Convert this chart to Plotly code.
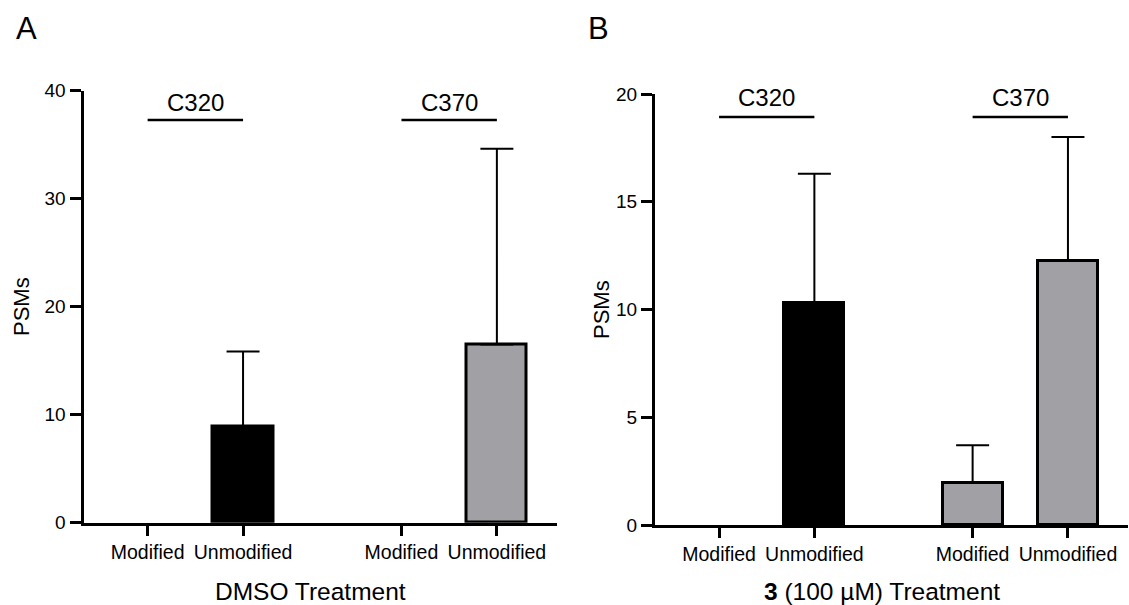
import plotly.graph_objects as go

# ---- data ----
positions = [0, 1, 2.66, 3.66]
tick_labels = ["Modified", "Unmodified", "Modified", "Unmodified"]
sites = ["C320", "C370"]
bar_colors = ["#000000", "#000000", "#a1a1a5", "#a1a1a5"]

dmso_mean = [0, 8.9, 0, 16.5]
dmso_sd = [None, 6.95, None, 18.1]

cmpd_mean = [0, 10.3, 1.95, 12.25]
cmpd_sd = [None, 6.0, 1.75, 5.75]

W, H = 1129, 605
FONT = "Liberation Sans, Arial, sans-serif"

fig = go.Figure()

def add_bars(mean, sd, xa, ya):
    fig.add_trace(go.Bar(
        x=positions, y=[v if v > 0 else None for v in mean], width=0.63,
        marker=dict(color=bar_colors, line=dict(color="black", width=3)),
        error_y=dict(type="data", symmetric=False, array=sd,
                     arrayminus=[0 if s is not None else None for s in sd],
                     color="black", thickness=2, width=16.5),
        xaxis=xa, yaxis=ya, showlegend=False, hoverinfo="skip"))

add_bars(dmso_mean, dmso_sd, "x", "y")
add_bars(cmpd_mean, cmpd_sd, "x2", "y2")

xa_common = dict(range=[-0.672, 4.29], tickmode="array", tickvals=positions,
                 ticktext=tick_labels, showline=True, linecolor="black", linewidth=3,
                 ticks="outside", ticklen=10, tickwidth=3, tickcolor="black",
                 showgrid=False, zeroline=False, automargin=False,
                 tickfont=dict(family=FONT, size=19.5, color="black"))
ya_common = dict(showline=True, linecolor="black", linewidth=3, ticks="outside",
                 ticklen=11, tickwidth=3, tickcolor="black", showgrid=False,
                 zeroline=False, automargin=False,
                 tickfont=dict(family=FONT, size=19, color="black"))

fig.update_layout(
    width=W, height=H, margin=dict(l=0, r=0, t=0, b=0, pad=0, autoexpand=False),
    paper_bgcolor="white", plot_bgcolor="white", bargap=0,
    xaxis=dict(domain=[83.5 / W, 557 / W], anchor="y", **xa_common),
    xaxis2=dict(domain=[655 / W, 1128 / W], anchor="y2", **xa_common),
    yaxis=dict(domain=[1 - 522.7 / H, 1 - 90.5 / H], anchor="x", range=[0, 40],
               tickvals=[0, 10, 20, 30, 40], **ya_common),
    yaxis2=dict(domain=[1 - 525 / H, 1 - 94 / H], anchor="x2", range=[0, 20],
                tickvals=[0, 5, 10, 15, 20], **ya_common),
)

def py(p):
    return 1 - p / H

anns = []
shapes = []
for xa, line_y, text_y in [("x", 120, 102), ("x2", 117, 97)]:
    for gi, site in enumerate(sites):
        x0, x1 = positions[2 * gi], positions[2 * gi + 1]
        shapes.append(dict(type="line", xref=xa, yref="paper", x0=x0, x1=x1,
                           y0=py(line_y), y1=py(line_y),
                           line=dict(color="black", width=2.5)))
        anns.append(dict(xref=xa, yref="paper", x=(x0 + x1) / 2, y=py(text_y),
                         text=site, showarrow=False, xanchor="center", yanchor="middle",
                         font=dict(family=FONT, size=24, color="black")))

anns.append(dict(xref="paper", yref="paper", x=26 / W, y=py(28), text="A", showarrow=False,
                 xanchor="center", yanchor="middle", font=dict(family=FONT, size=31, color="black")))
anns.append(dict(xref="paper", yref="paper", x=598 / W, y=py(28), text="B", showarrow=False,
                 xanchor="center", yanchor="middle", font=dict(family=FONT, size=31, color="black")))

for xp, yp in [(21, 307), (601, 310)]:
    anns.append(dict(xref="paper", yref="paper", x=xp / W, y=py(yp), text="PSMs", showarrow=False,
                     textangle=-90, xanchor="center", yanchor="middle",
                     font=dict(family=FONT, size=22, color="black")))

anns.append(dict(xref="paper", yref="paper", x=310 / W, y=py(591), text="DMSO Treatment",
                 showarrow=False, xanchor="center", yanchor="middle",
                 font=dict(family=FONT, size=24.5, color="black")))
anns.append(dict(xref="paper", yref="paper", x=882 / W, y=py(591),
                 text="<b>3</b> (100 µM) Treatment",
                 showarrow=False, xanchor="center", yanchor="middle",
                 font=dict(family=FONT, size=24.5, color="black")))

fig.update_layout(annotations=anns, shapes=shapes)
fig.write_html("out.html", config={"displayModeBar": False},
               post_script="document.body.style.margin='0';")
